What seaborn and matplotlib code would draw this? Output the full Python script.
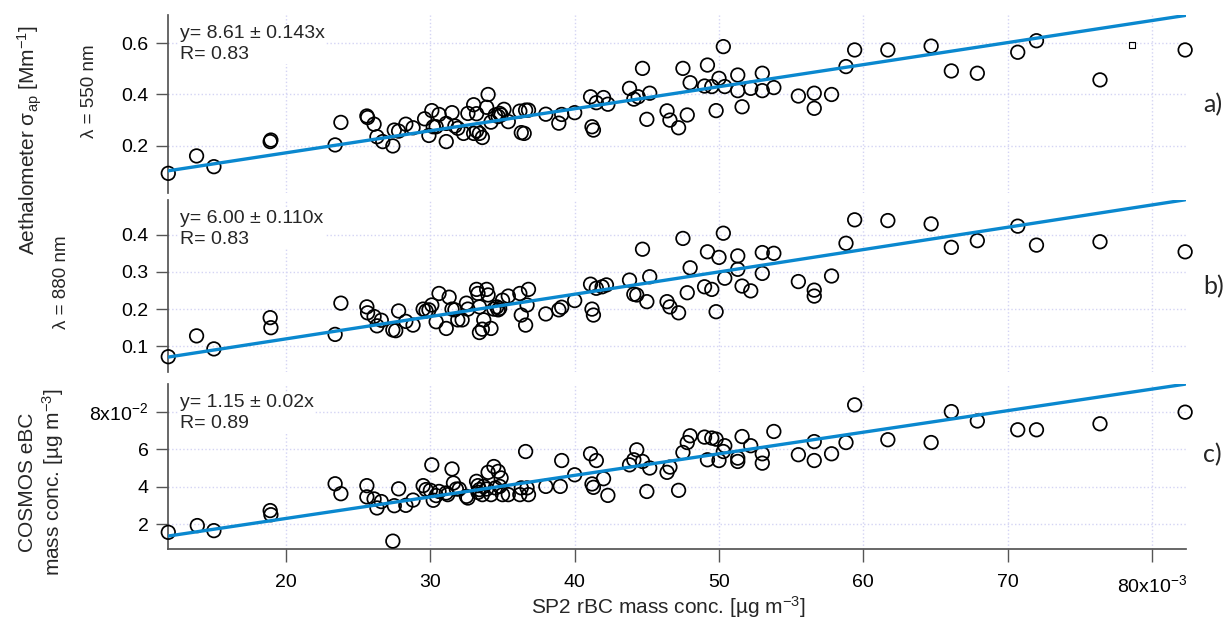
import numpy as np
import matplotlib
matplotlib.use("Agg")
import matplotlib.pyplot as plt
import seaborn as sns

# x: SP2 rBC mass conc. in 1e-3 ug m-3
# panel a) Aethalometer 550 nm [Mm-1]
a_x = [11.84, 13.8, 15.0, 18.9, 18.95, 23.4, 23.8, 25.6, 25.65, 26.1, 26.3, 26.7,
       27.4, 27.5, 27.8, 28.3, 28.8, 29.6, 29.9, 30.1, 30.2, 30.4, 30.6, 31.1, 31.1,
       31.5, 31.7, 31.9, 32.3, 32.6, 33.0, 33.0, 33.2, 33.2, 33.4, 33.6, 33.9, 34.0,
       34.2, 34.5, 34.7, 34.8, 34.9, 35.1, 35.4, 36.2, 36.3, 36.5, 36.6, 36.8, 38.0,
       38.9, 39.1, 40.0, 41.1, 41.2, 41.3, 41.5, 42.0, 42.3, 43.8, 44.1, 44.4, 44.7,
       45.0, 45.2, 46.4, 46.6, 47.2, 47.5, 47.8, 48.0, 49.0, 49.2, 49.5, 49.8, 50.0,
       50.3, 50.4, 51.3, 51.3, 51.6, 52.2, 53.0, 53.0, 53.8, 55.5, 56.6, 56.6, 57.8,
       58.8, 59.4, 61.7, 64.7, 66.1, 67.9, 70.7, 72.0, 76.4, 82.3]
a_y = [0.092, 0.16, 0.118, 0.216, 0.222, 0.203, 0.291, 0.316, 0.31, 0.284, 0.235, 0.216,
       0.199, 0.261, 0.257, 0.284, 0.27, 0.305, 0.24, 0.337, 0.274, 0.274, 0.322, 0.216, 0.287,
       0.329, 0.277, 0.268, 0.248, 0.326, 0.248, 0.36, 0.325, 0.258, 0.248, 0.232, 0.35, 0.40,
       0.292, 0.32, 0.314, 0.326, 0.32, 0.342, 0.294, 0.335, 0.251, 0.248, 0.339, 0.339, 0.323,
       0.288, 0.322, 0.329, 0.391, 0.274, 0.261, 0.368, 0.388, 0.362, 0.424, 0.382, 0.391, 0.502,
       0.303, 0.405, 0.336, 0.30, 0.27, 0.502, 0.32, 0.446, 0.433, 0.515, 0.431, 0.337, 0.463,
       0.587, 0.431, 0.476, 0.415, 0.352, 0.424, 0.483, 0.415, 0.427, 0.394, 0.405, 0.346, 0.40,
       0.509, 0.574, 0.574, 0.589, 0.492, 0.483, 0.565, 0.61, 0.457, 0.574]
a_square_x = [78.6]
a_square_y = [0.593]

# panel b) Aethalometer 880 nm [Mm-1]
b_x = [11.84, 13.8, 15.0, 18.9, 18.95, 23.4, 23.8, 25.6, 25.65, 26.1, 26.3, 26.6,
       27.4, 27.6, 27.8, 28.3, 28.8, 29.5, 29.7, 29.9, 30.1, 30.4, 30.6, 31.1, 31.3,
       31.5, 31.7, 31.9, 32.2, 32.5, 32.6, 33.2, 33.3, 33.4, 33.6, 33.4, 33.7, 33.9,
       34.0, 34.2, 34.4, 34.6, 34.7, 34.8, 35.0, 35.4, 36.2, 36.3, 36.6, 36.7, 36.8,
       38.0, 38.9, 39.1, 40.0, 41.1, 41.2, 41.3, 41.5, 41.9, 42.2, 43.8, 44.1, 44.3,
       44.7, 45.0, 45.2, 46.4, 46.6, 47.2, 47.5, 47.8, 48.0, 49.0, 49.2, 49.5, 49.8,
       50.0, 50.3, 50.4, 51.3, 51.3, 51.6, 52.2, 53.0, 53.0, 53.8, 55.5, 56.6, 56.6,
       57.8, 58.8, 59.4, 61.7, 64.7, 66.1, 67.9, 70.7, 72.0, 76.4, 82.3]
b_y = [0.072, 0.128, 0.093, 0.177, 0.150, 0.132, 0.216, 0.206, 0.190, 0.180, 0.155, 0.170,
       0.144, 0.142, 0.195, 0.167, 0.157, 0.200, 0.195, 0.198, 0.211, 0.166, 0.242, 0.148, 0.232,
       0.200, 0.198, 0.171, 0.171, 0.216, 0.200, 0.253, 0.242, 0.137, 0.146, 0.206, 0.171, 0.253,
       0.238, 0.148, 0.200, 0.206, 0.198, 0.202, 0.224, 0.235, 0.242, 0.184, 0.157, 0.211, 0.253,
       0.187, 0.198, 0.205, 0.223, 0.267, 0.200, 0.184, 0.256, 0.260, 0.265, 0.278, 0.240, 0.238,
       0.361, 0.220, 0.287, 0.220, 0.206, 0.190, 0.390, 0.244, 0.311, 0.260, 0.354, 0.253, 0.193,
       0.339, 0.404, 0.283, 0.343, 0.307, 0.262, 0.249, 0.352, 0.296, 0.350, 0.274, 0.251, 0.235,
       0.289, 0.377, 0.440, 0.438, 0.429, 0.366, 0.384, 0.423, 0.372, 0.381, 0.354]

# panel c) COSMOS eBC in 1e-2 ug m-3
c_x = [11.84, 13.85, 15.0, 18.9, 18.95, 23.4, 23.8, 25.6, 25.6, 26.1, 26.3, 26.6,
       27.4, 27.5, 27.8, 28.3, 28.8, 29.5, 29.7, 30.0, 30.1, 30.2, 30.4, 30.6, 31.1,
       31.2, 31.5, 31.6, 31.8, 32.0, 32.5, 32.6, 33.2, 33.3, 33.3, 33.4, 33.6, 33.7,
       33.9, 34.0, 34.2, 34.4, 34.5, 34.7, 34.8, 34.9, 35.0, 35.4, 36.2, 36.3, 36.6,
       36.7, 36.8, 38.0, 39.0, 39.1, 40.0, 41.1, 41.2, 41.3, 41.5, 42.0, 42.3, 43.8,
       44.1, 44.3, 44.7, 45.0, 45.2, 46.4, 46.6, 47.2, 47.5, 47.8, 48.0, 49.0, 49.2,
       49.5, 49.8, 50.0, 50.3, 50.4, 51.3, 51.3, 51.6, 52.2, 53.0, 53.0, 53.8, 55.5,
       56.6, 56.6, 57.8, 58.8, 59.4, 61.7, 64.7, 66.1, 67.9, 70.7, 72.0, 76.4, 82.3]
c_y = [1.56, 1.92, 1.65, 2.72, 2.50, 4.15, 3.62, 4.05, 3.45, 3.34, 2.86, 3.20,
       1.09, 2.98, 3.88, 3.00, 3.28, 4.05, 3.84, 3.80, 5.16, 3.27, 3.52, 3.74, 3.66,
       3.57, 4.94, 4.19, 3.87, 3.87, 3.48, 3.39, 4.28, 4.05, 3.69, 3.84, 3.57, 4.01,
       3.87, 4.76, 3.57, 5.07, 3.93, 4.81, 4.01, 4.46, 3.57, 3.57, 3.57, 3.93, 5.87,
       3.93, 3.57, 4.01, 4.01, 5.39, 4.63, 5.75, 4.14, 3.96, 5.39, 4.42, 3.53, 5.16,
       5.43, 5.96, 5.34, 3.74, 4.99, 4.76, 5.04, 3.80, 5.82, 6.35, 6.71, 6.64, 5.43,
       6.59, 6.53, 5.39, 5.87, 6.18, 5.52, 5.34, 6.67, 6.18, 5.75, 5.25, 6.94, 5.70,
       6.40, 5.39, 5.75, 6.35, 8.36, 6.50, 6.35, 8.00, 7.50, 7.03, 7.03, 7.35, 7.97]

fit_text = ["y= 8.61 \u00b1 0.143x\nR= 0.83",
            "y= 6.00 \u00b1 0.110x\nR= 0.83",
            "y= 1.15 \u00b1 0.02x\nR= 0.89"]
slopes = [8.61, 6.00, 1.15 * 100]    # c) plotted in 1e-2 units
panel_labels = ["a)", "b)", "c)"]

x_ticks = [20, 30, 40, 50, 60, 70, 80]
x_ticklabels = ["20", "30", "40", "50", "60", "70", r"80x10$^{-3}$"]
a_ticks = [0.2, 0.4, 0.6]
b_ticks = [0.1, 0.2, 0.3, 0.4]
c_ticks = [2, 4, 6, 8]
c_ticklabels = ["2", "4", "6", r"8x10$^{-2}$"]

sns.set_theme(style="white")
plt.rcParams["font.family"] = ["Liberation Sans", "DejaVu Sans"]
plt.rcParams["mathtext.default"] = "regular"

W, H = 1227, 622
fig = plt.figure(figsize=(W / 100, H / 100), dpi=100)


def fx(px):
    return px / W


def fy(py):
    return 1 - py / H


# pixel boxes of the three stacked panels (top, bottom)
boxes = [(15, 193), (200, 372), (384, 549)]
ylims = [(0.0152, 0.7105), (0.0309, 0.4933), (0.670, 9.473)]
xlim = (11.82, 82.36)
blue = "#0a88cf"
grey = "#555555"
tick_fs = 14

panels = [(a_x, a_y, a_ticks, [f"{t:.1f}" for t in a_ticks]),
          (b_x, b_y, b_ticks, [f"{t:.1f}" for t in b_ticks]),
          (c_x, c_y, c_ticks, c_ticklabels)]

for i, (xs, ys, yt, ytl) in enumerate(panels):
    top, bot = boxes[i]
    ax = fig.add_axes([fx(168), fy(bot), fx(1186) - fx(168), fy(top) - fy(bot)])

    sns.scatterplot(x=xs, y=ys, ax=ax, marker="o", s=95, facecolor="none",
                    edgecolor="black", linewidth=1.25, zorder=3, clip_on=False)
    if i == 0:
        sns.scatterplot(x=a_square_x, y=a_square_y, ax=ax, marker="s", s=16,
                        facecolor="none", edgecolor="black", linewidth=0.8, zorder=3)

    # fit line through origin, slope from the fit text
    xl = np.array([min(xs), max(xs)])
    sns.lineplot(x=xl, y=slopes[i] * xl / 1000, ax=ax, color=blue,
                 linewidth=2.4, zorder=4)

    ax.set_xlim(*xlim)
    ax.set_ylim(*ylims[i])
    ax.set_xticks(x_ticks)
    ax.set_yticks(yt)
    ax.set_yticklabels(ytl)
    ax.grid(True, color="#d4d4f4", linestyle=":", linewidth=1)
    for s in ["top", "right"]:
        ax.spines[s].set_visible(False)
    ax.spines["left"].set_color(grey)
    ax.tick_params(axis="y", left=True, direction="out", length=9, width=1,
                   color=grey, pad=5, labelsize=tick_fs, labelcolor="black")
    if i < 2:
        ax.spines["bottom"].set_visible(False)
        ax.tick_params(axis="x", bottom=False, labelbottom=False)
    else:
        ax.spines["bottom"].set_color(grey)
        ax.set_xticklabels(x_ticklabels)
        ax.tick_params(axis="x", bottom=True, direction="out", length=9, width=1,
                       color=grey, pad=9, labelsize=tick_fs, labelcolor="black")
    ax.set_xlabel("")
    ax.set_ylabel("")

    ax.text(0.012, 1 - 10 / (bot - top), fit_text[i], transform=ax.transAxes,
            ha="left", va="top", fontsize=14, linespacing=1.3,
            bbox=dict(facecolor="white", edgecolor="none", pad=1), zorder=5)

label_y = [105, 287, 455]
for lab, py in zip(panel_labels, label_y):
    fig.text(fx(1203), fy(py), lab, fontsize=18, family=["Lato", "DejaVu Sans"],
             ha="left", va="center")

fig.text(fx(30), fy(140), r"Aethalometer $\sigma_{ap}$ [Mm$^{-1}$]", rotation=90,
         ha="center", va="center", fontsize=15)
fig.text(fx(90), fy(91), "\u03bb = 550 nm", rotation=90, ha="center", va="center",
         fontsize=13.5)
fig.text(fx(62), fy(282), "\u03bb = 880 nm", rotation=90, ha="center", va="center",
         fontsize=13.5)
fig.text(fx(42), fy(482), "COSMOS eBC\nmass conc. [\u00b5g m$^{-3}$]", rotation=90,
         ha="center", va="center", fontsize=15, linespacing=1.2)
fig.text(fx(668), fy(607), "SP2 rBC mass conc. [\u00b5g m$^{-3}$]", ha="center",
         va="center", fontsize=15)

fig.savefig("out.png", dpi=100)
